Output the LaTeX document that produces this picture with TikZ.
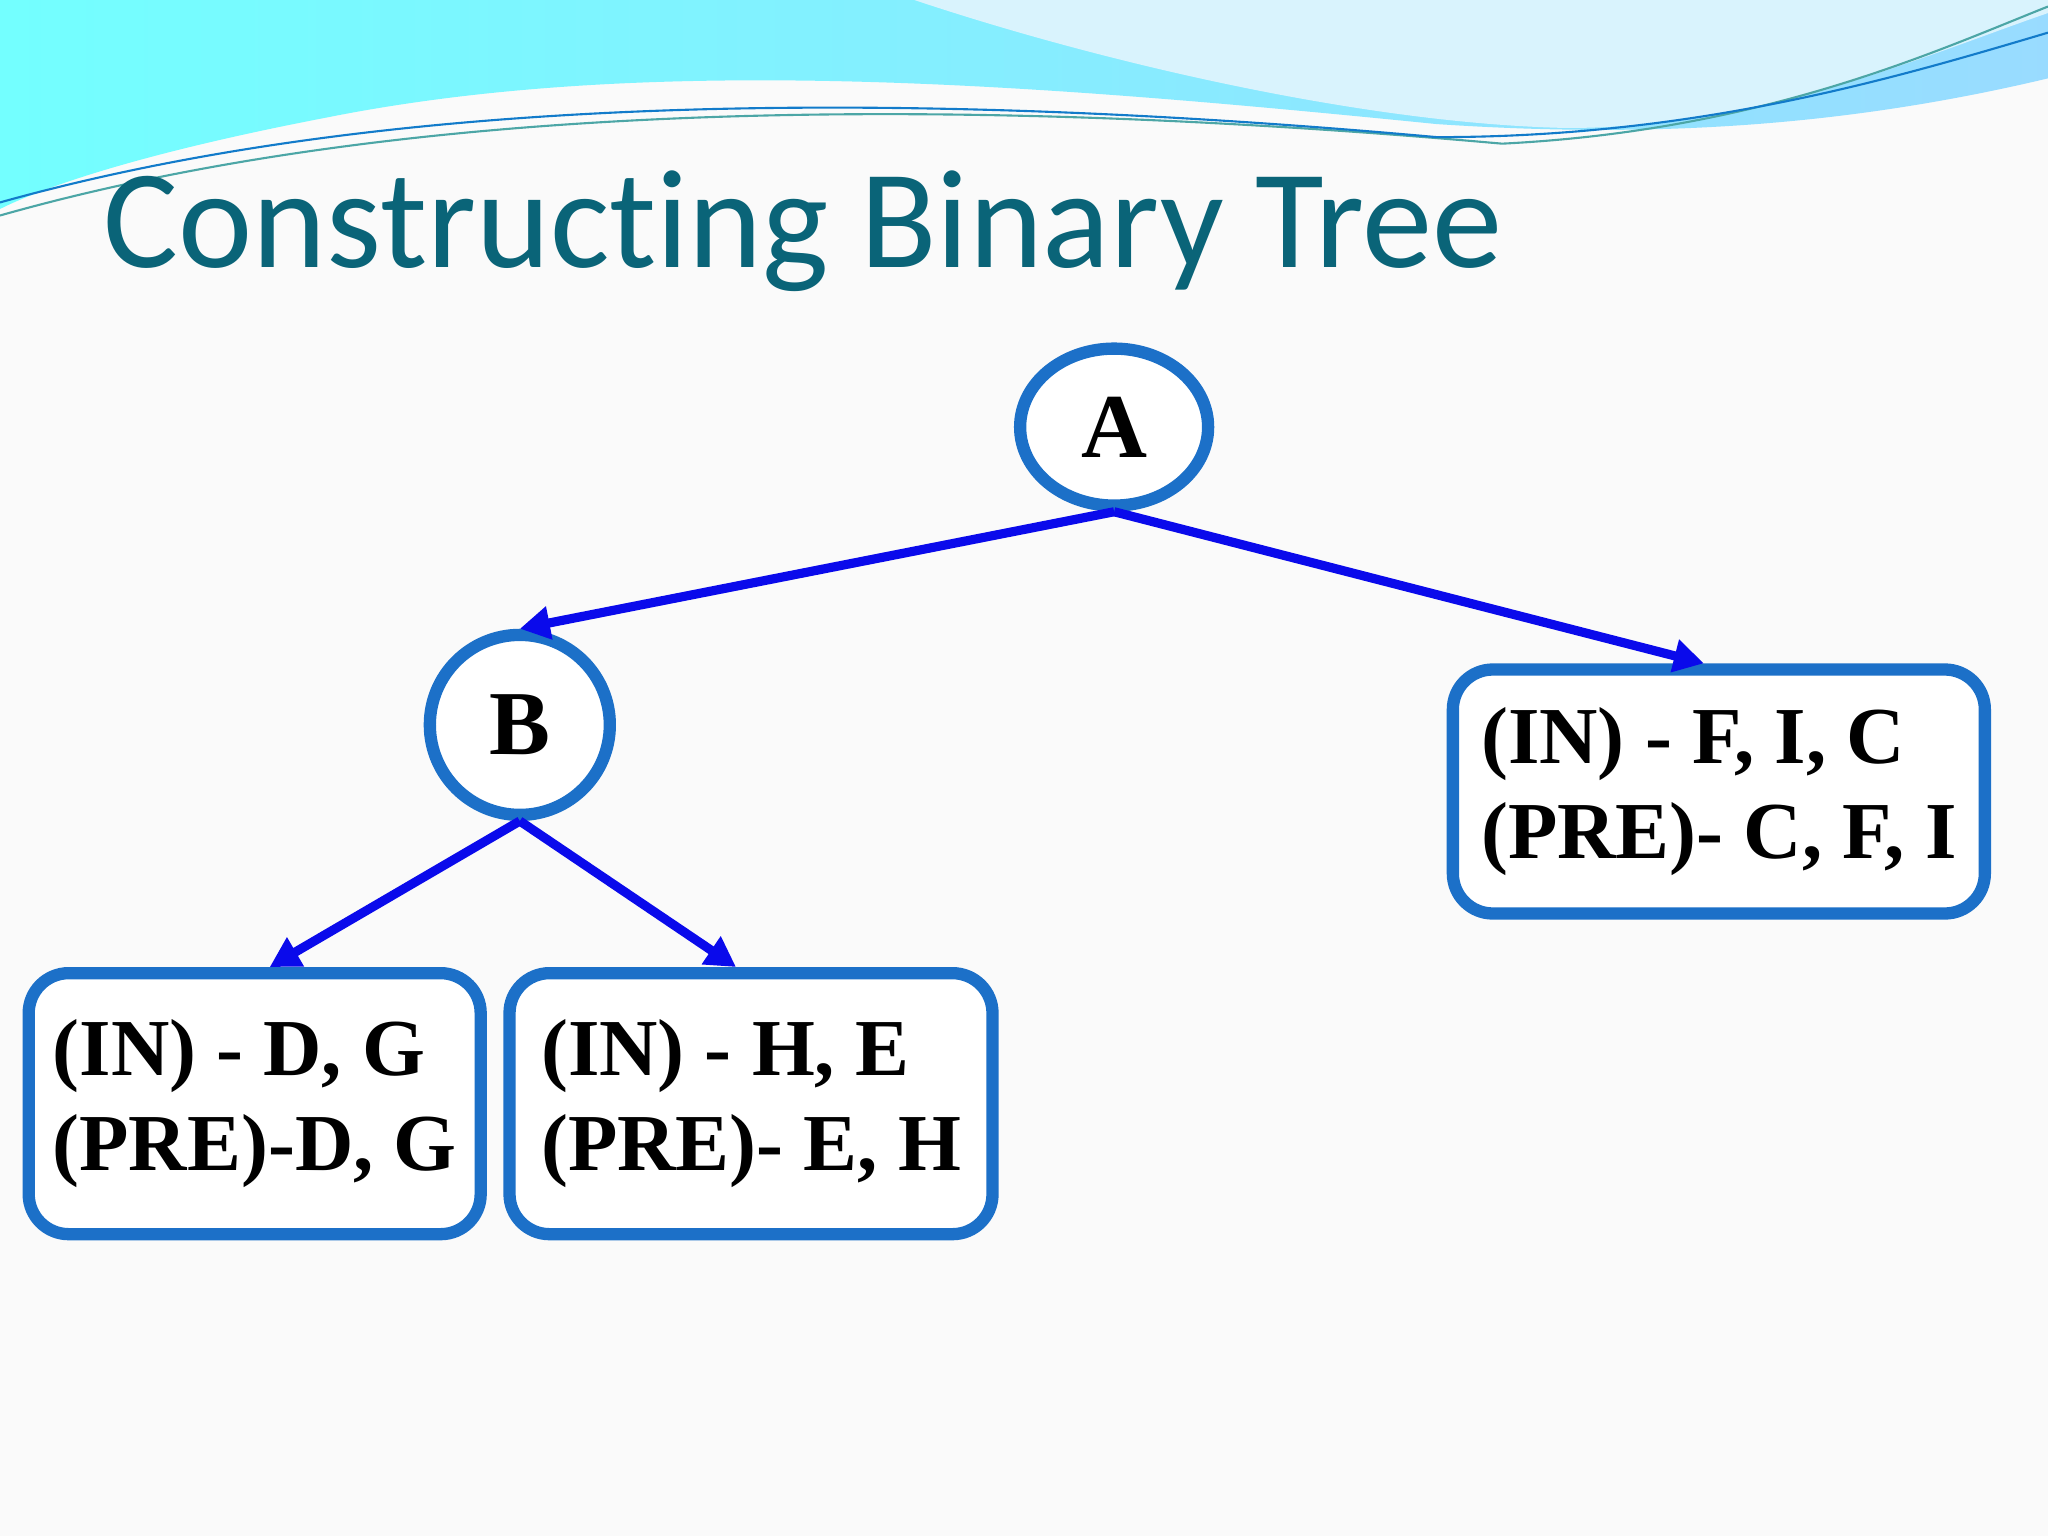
\documentclass[tikz,border=0pt]{standalone}
\usepackage{fontspec}
\setmainfont{Liberation Serif}
\newfontfamily\titlefont[RawFeature=-liga]{Carlito}
\usetikzlibrary{positioning, shapes.geometric, arrows.meta}
\definecolor{nodeblue}{RGB}{28,112,200}
\definecolor{edgeblue}{RGB}{10,10,235}
\definecolor{titleteal}{RGB}{10,100,120}
\tikzset{
	every text node part/.style= {
		align=left
	},
	treenode/.style= {
		ellipse,
		draw=nodeblue,
		line width=3.5pt,
		fill=white,
		font=\bfseries\fontsize{26}{30}\selectfont
	},
	infobox/.style= {
		rectangle,
		rounded corners=0.4cm,
		draw=nodeblue,
		line width=3.5pt,
		fill=white,
		font=\bfseries\fontsize{23}{27}\selectfont
	},
	edge/.style= {
		edgeblue,
		line width=2.6pt,
		-{Triangle[length=0.3cm,width=0.32cm]}
	}
}
\begin{document}
\begin{tikzpicture}[x=0.01306cm, y=-0.01306cm]

	\useasboundingbox (0,0) rectangle (1568,1176);
	\fill[gray!4] (0,0) rectangle (1568,1176);
	% waves on top
	\shade[left color=cyan!55, right color=blue!35!cyan!40] (0,0) -- (1568,0) -- (1568,60)
		.. controls (1400,100) and (1250,105) .. (1100,95)
		.. controls (800,65) and (500,40) .. (250,90)
		.. controls (120,115) and (40,140) .. (0,160) -- cycle;
	\fill[white!85!cyan] (700,0) .. controls (850,50) and (1050,95) .. (1200,98)
		.. controls (1350,98) and (1480,40) .. (1568,10) -- (1568,0) -- cycle;
	\draw[teal!70, line width=0.6pt] (0,165) .. controls (300,80) and (700,70) .. (1150,110)
		.. controls (1350,100) and (1480,40) .. (1568,5);
	\draw[cyan!60!blue, line width=0.6pt] (0,155) .. controls (250,85) and (600,60) .. (1100,105)
		.. controls (1300,105) and (1450,60) .. (1568,25);

	\node (title)[anchor=base west, text=titleteal, font=\titlefont\fontsize{40}{44}\selectfont] at (70,205) {Constructing Binary Tree};

	\node (A)[treenode, minimum width=1.88cm, minimum height=1.57cm] at (853,327) {A};
	\node (B)[treenode, circle, minimum size=1.8cm] at (398,555) {B};

	\node (boxDG)[infobox, minimum width=4.52cm, minimum height=2.61cm] at (195,845) {(IN) - D, G\\(PRE)-D, G};
	\node (boxHE)[infobox, minimum width=4.83cm, minimum height=2.61cm] at (575,845) {(IN) - H, E\\(PRE)- E, H};
	\node (boxFIC)[infobox, minimum width=5.32cm, minimum height=2.44cm] at (1316,606) {(IN) - F, I, C\\(PRE)- C, F, I};

	\draw[edge] (A.south) to (B.north);
	\draw[edge] (A.south) to ([xshift=-0.15cm]boxFIC.north);
	\draw[edge] (B.south) to ([xshift=0.15cm]boxDG.north);
	\draw[edge] (B.south) to ([xshift=-0.15cm]boxHE.north);

\end{tikzpicture}
\end{document}
